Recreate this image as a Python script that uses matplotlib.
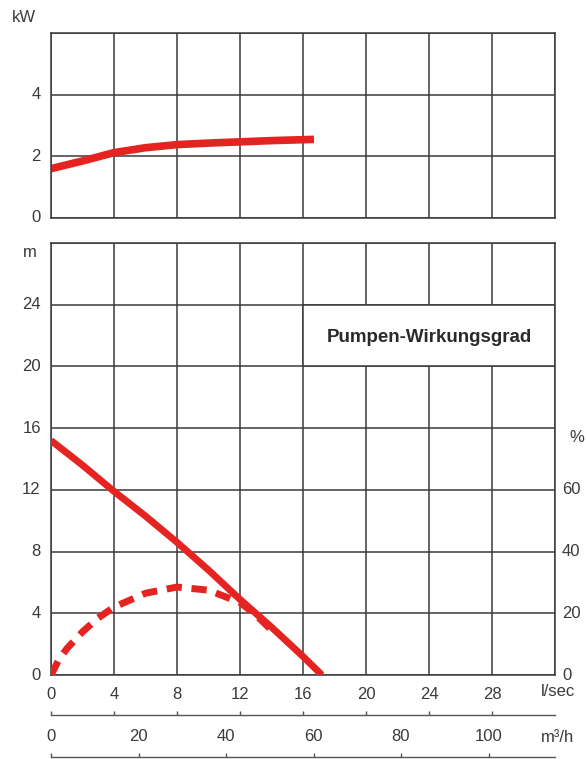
import matplotlib.pyplot as plt
from matplotlib.patches import Rectangle

# Pumpenkennlinie - Daten
# ===================================
q_power = [0, 2, 4, 6, 8, 10, 12, 14, 16.7]
power_kw = [1.6, 1.85, 2.12, 2.28, 2.38, 2.43, 2.47, 2.51, 2.55]

q_head = [0, 2, 4, 6, 8, 10, 12, 14, 16, 17.2]
head_m = [15.2, 13.6, 11.9, 10.3, 8.6, 6.8, 4.9, 3.1, 1.2, 0]

q_eff = [0, 0.5, 1, 2, 3, 4, 6, 8, 10, 12, 13, 14]
eff_pct = [0, 5, 8.5, 14, 18.5, 22, 26.5, 28.5, 27.5, 23.5, 19.5, 14.5]

lsec_ticks = [0, 4, 8, 12, 16, 20, 24, 28]
m3h_ticks = [0, 20, 40, 60, 80, 100]
kw_ticks = [0, 2, 4]
m_ticks = [0, 4, 8, 12, 16, 20, 24]
pct_ticks = [0, 20, 40, 60]

RED = '#e52421'
GRID = '#3a3a3a'
TXT = '#3a3a3a'
FS = 12
plt.rcParams['font.family'] = ['Liberation Sans', 'DejaVu Sans']

fig = plt.figure(figsize=(5.87, 7.59), dpi=100)
W, H = 587.0, 759.0


def fig_rect(x0, y0, x1, y1):
    return [x0 / W, 1 - y1 / H, (x1 - x0) / W, (y1 - y0) / H]


def style_grid(ax, yticks, ytop, ystep):
    ax.set_xlim(0, 32)
    ax.set_ylim(0, ytop)
    ax.set_xticks(range(0, 33, 4))
    ax.set_yticks(range(0, ytop + 1, ystep))
    ax.set_axisbelow(True)
    ax.grid(True, color=GRID, linewidth=1.1)
    ax.tick_params(length=0, labelbottom=False, labelleft=False)
    for s in ax.spines.values():
        s.set_color(GRID)
        s.set_linewidth(1.1)
    for t in yticks:
        ax.text(-0.65, t, str(t), ha='right', va='center', fontsize=FS, color=TXT)


# ===== Leistung (kW) =====
ax1 = fig.add_axes(fig_rect(51, 33, 555, 218))
style_grid(ax1, kw_ticks, 6, 2)
ax1.plot(q_power, power_kw, color=RED, linewidth=5.5, solid_capstyle='butt')
fig.text(24 / W, 1 - 18 / H, 'kW', ha='center', va='center', fontsize=FS, color=TXT)

# ===== Förderhöhe (m) + Wirkungsgrad (%) =====
ax2 = fig.add_axes(fig_rect(51, 243, 555, 675))
style_grid(ax2, m_ticks, 28, 4)
ax2.add_patch(Rectangle((16, 20), 16, 4, facecolor='white', edgecolor=GRID,
                        linewidth=1.1, zorder=1.5))
ax2.text(24, 21.9, 'Pumpen-Wirkungsgrad', ha='center', va='center',
         fontsize=13.5, fontweight='bold', color='#2a2a2a', zorder=3)
ax2.plot(q_head, head_m, color=RED, linewidth=5, solid_capstyle='butt', zorder=3)

ax3 = ax2.twinx()
ax3.set_ylim(0, 140)
ax3.set_yticks([])
for s in ax3.spines.values():
    s.set_visible(False)
ax3.plot(q_eff, eff_pct, color=RED, linewidth=5, dashes=(2.2, 1.4), zorder=3)
for t in pct_ticks:
    ax3.text(32.45, t, str(t), ha='left', va='center', fontsize=FS, color=TXT)
ax3.text(32.9, 77, '%', ha='left', va='center', fontsize=FS, color=TXT)
fig.text(30 / W, 1 - 253 / H, 'm', ha='center', va='center', fontsize=FS, color=TXT)


# ===== untere Achsen (l/sec und m³/h) =====
def flat_axis(y_px, xmax, ticks, unit, unit_y_px):
    ax = fig.add_axes([51 / W, 1 - y_px / H, 504 / W, 0.0001])
    ax.set_xlim(0, xmax)
    ax.set_yticks([])
    for k in ['left', 'right', 'bottom']:
        ax.spines[k].set_visible(False)
    ax.spines['top'].set_color('#555555')
    ax.spines['top'].set_linewidth(1.0)
    ax.patch.set_alpha(0)
    ax.xaxis.tick_top()
    ax.set_xticks(ticks)
    ax.set_xticklabels([str(t) for t in ticks])
    ax.tick_params(axis='x', direction='out', length=3, width=1, color='#555555',
                   pad=6, labelsize=FS, labelcolor=TXT)
    fig.text(558 / W, 1 - unit_y_px / H, unit, ha='center', va='center',
             fontsize=FS, color=TXT)
    return ax


flat_axis(715, 32, lsec_ticks, 'l/sec', 692)
flat_axis(757, 32 * 3.6, m3h_ticks, 'm³/h', 738)

fig.savefig('out.png', dpi=100)
